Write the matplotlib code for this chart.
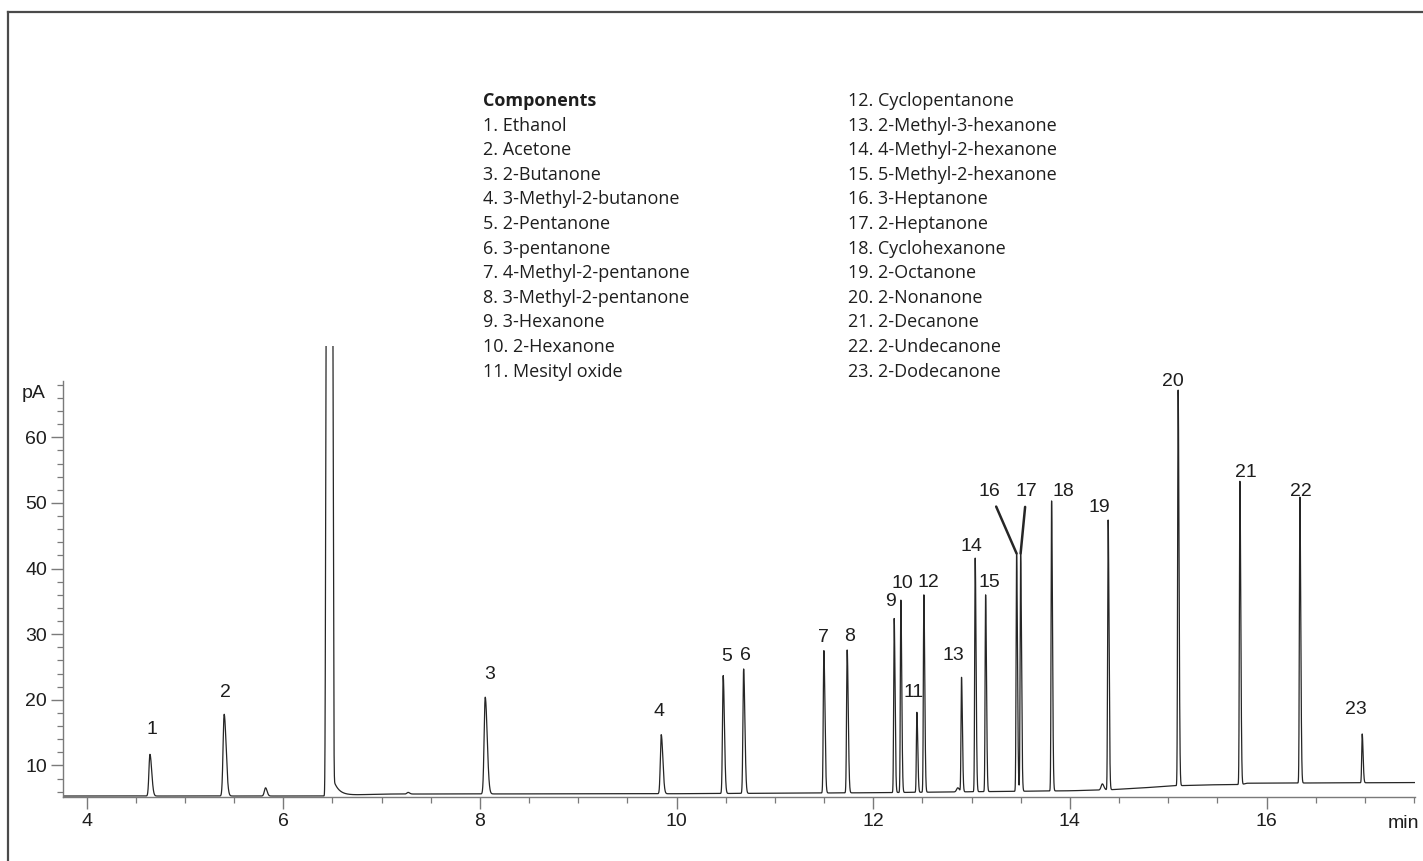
import numpy as np
import matplotlib
matplotlib.use("Agg")
import matplotlib.pyplot as plt
from matplotlib.lines import Line2D
from matplotlib.ticker import MultipleLocator, FixedLocator

# peak data (retention time in min, apex in pA)
peak_no = [str(i) for i in range(1, 24)]
peak_rt = [4.644, 5.399, 8.054, 9.844, 10.474, 10.682, 11.498, 11.735,
           12.213, 12.281, 12.444, 12.515, 12.898, 13.037, 13.143, 13.458,
           13.499, 13.814, 14.389, 15.101, 15.729, 16.339, 16.973]
peak_apex = [11.7, 17.8, 20.4, 14.7, 23.7, 24.7, 27.5, 27.6,
             32.4, 35.2, 18.1, 36.0, 23.4, 41.6, 36.0, 42.3,
             42.3, 50.3, 47.4, 67.2, 53.3, 50.9, 14.8]
peak_sigma = [0.010, 0.011, 0.011, 0.009, 0.007, 0.007, 0.006, 0.006,
              0.005, 0.005, 0.005, 0.005, 0.005, 0.005, 0.005, 0.005,
              0.005, 0.005, 0.005, 0.005, 0.005, 0.005, 0.005]

# small unlabelled peaks
minor_rt = [5.82, 7.27, 12.86, 14.33]
minor_apex = [6.6, 5.9, 6.6, 7.2]

# solvent peak (off scale)
solvent_rt = 6.47

# baseline drift
base_t = [3.76, 6.40, 7.00, 10.0, 12.0, 14.0, 14.4, 14.7, 15.05, 15.4, 15.75, 15.8, 17.51]
base_pA = [5.35, 5.35, 5.65, 5.70, 5.85, 6.15, 6.30, 6.55, 6.90, 7.05, 7.10, 7.30, 7.40]

components_left = ["1. Ethanol", "2. Acetone", "3. 2-Butanone", "4. 3-Methyl-2-butanone",
                   "5. 2-Pentanone", "6. 3-pentanone", "7. 4-Methyl-2-pentanone",
                   "8. 3-Methyl-2-pentanone", "9. 3-Hexanone", "10. 2-Hexanone",
                   "11. Mesityl oxide"]
components_right = ["12. Cyclopentanone", "13. 2-Methyl-3-hexanone", "14. 4-Methyl-2-hexanone",
                    "15. 5-Methyl-2-hexanone", "16. 3-Heptanone", "17. 2-Heptanone",
                    "18. Cyclohexanone", "19. 2-Octanone", "20. 2-Nonanone",
                    "21. 2-Decanone", "22. 2-Undecanone", "23. 2-Dodecanone"]

# label offsets in pixels (x, y) from the peak apex
label_dx = [2, 1, 4, -2, 4, 2, 0, 2, -4, 2, -3, 5, -8, -4, 4, -27, 6, 12, -9, -5, 6, 1, -6]
label_dy = [25, 22, 23, 23, 19, 13, 13, 13, 17, 17, 20, 12, 22, 12, 12, 62, 62, 9, 12, 9, 9, 6, 24]

t = np.arange(3.76, 17.51, 0.0004)
baseline = np.interp(t, base_t, base_pA)
signal = baseline.copy()


def add_peak(rt, apex, sig, tail=1.8):
    amp = apex - np.interp(rt, base_t, base_pA)
    s = np.where(t < rt, sig, sig * tail)
    return amp * np.exp(-0.5 * ((t - rt) / s) ** 2)


for rt, ap, sg in zip(peak_rt, peak_apex, peak_sigma):
    signal += add_peak(rt, ap, sg)
for rt, ap in zip(minor_rt, minor_apex):
    signal += add_peak(rt, ap, 0.012, 1.3)

# saturated solvent peak with tail
signal += 120 * np.exp(-np.abs((t - solvent_rt) / 0.0385) ** 6)
tail_x = np.clip(t - solvent_rt - 0.02, 0, None)
signal += np.where(t > solvent_rt, 3.5 * np.exp(-tail_x / 0.055), 0)

fig = plt.figure(figsize=(14.23, 8.61), dpi=100)
ax = fig.add_axes([0.04427, 0.07433, 0.95011, 0.52377])

ax.plot(t, signal, color="#262626", lw=0.9)
ax.set_xlim(3.76, 17.51)
ax.set_ylim(5.2, 73.9)

axis_col = "#7a7a7a"
for s in ["top", "right"]:
    ax.spines[s].set_visible(False)
ax.spines["left"].set_bounds(5.2, 68.5)
ax.spines["left"].set_color(axis_col)
ax.spines["bottom"].set_color(axis_col)
ax.spines["left"].set_linewidth(1.0)
ax.spines["bottom"].set_linewidth(1.0)

tick_font = "Liberation Sans"
fs = 14
ax.set_xticks([4, 6, 8, 10, 12, 14, 16])
ax.set_xticklabels(["4", "6", "8", "10", "12", "14", "16"], fontfamily=tick_font)
ax.xaxis.set_minor_locator(MultipleLocator(0.5))
ax.set_yticks([10, 20, 30, 40, 50, 60])
ax.set_yticklabels(["10", "20", "30", "40", "50", "60"], fontfamily=tick_font)
ax.yaxis.set_minor_locator(FixedLocator(np.arange(6, 69, 2)))
ax.tick_params(axis="both", which="major", length=8.5, width=1.0, color=axis_col,
               labelsize=fs, labelcolor="#1e1e1e", pad=3)
ax.tick_params(axis="both", which="minor", length=4, width=0.9, color=axis_col)

fig.text(46 / 1423, 1 - 393 / 861, "pA", ha="right", va="center",
         fontsize=fs, fontfamily=tick_font, color="#1e1e1e")
fig.text(1403 / 1423, 1 - 823 / 861, "min", ha="center", va="center",
         fontsize=fs, fontfamily=tick_font, color="#1e1e1e")

# peak labels
for i, (rt, ap) in enumerate(zip(peak_rt, peak_apex)):
    kw = dict(xy=(rt, ap), xytext=(label_dx[i], label_dy[i]), textcoords="offset pixels",
              ha="center", va="center", fontsize=fs, fontfamily=tick_font, color="#1e1e1e")
    if peak_no[i] in ("16", "17"):
        kw["arrowprops"] = dict(arrowstyle="-", color="#262626", lw=1.8, shrinkA=3, shrinkB=0)
    ax.annotate(peak_no[i], **kw)

# component list
leg_font = "Open Sans"
lfs = 13
y0 = 1 - 101 / 861
dy = 24.6 / 861
fig.text(483 / 1423, y0, "Components", fontsize=lfs, fontweight="bold", fontfamily=leg_font,
         color="#1e1e1e", va="center", ha="left")
for k, name in enumerate(components_left):
    fig.text(483 / 1423, y0 - (k + 1) * dy, name, fontsize=lfs, fontfamily=leg_font,
             color="#1e1e1e", va="center", ha="left")
for k, name in enumerate(components_right):
    fig.text(848 / 1423, y0 - k * dy, name, fontsize=lfs, fontfamily=leg_font,
             color="#1e1e1e", va="center", ha="left")

# outer frame (top and left edges)
fig.add_artist(Line2D([8 / 1423, 8 / 1423], [0, 1 - 12 / 861], transform=fig.transFigure,
                      color="#4a4a4a", lw=1.6))
fig.add_artist(Line2D([8 / 1423, 1], [1 - 12 / 861, 1 - 12 / 861], transform=fig.transFigure,
                      color="#4a4a4a", lw=1.6))

fig.savefig("out.png", dpi=100, facecolor="white")
